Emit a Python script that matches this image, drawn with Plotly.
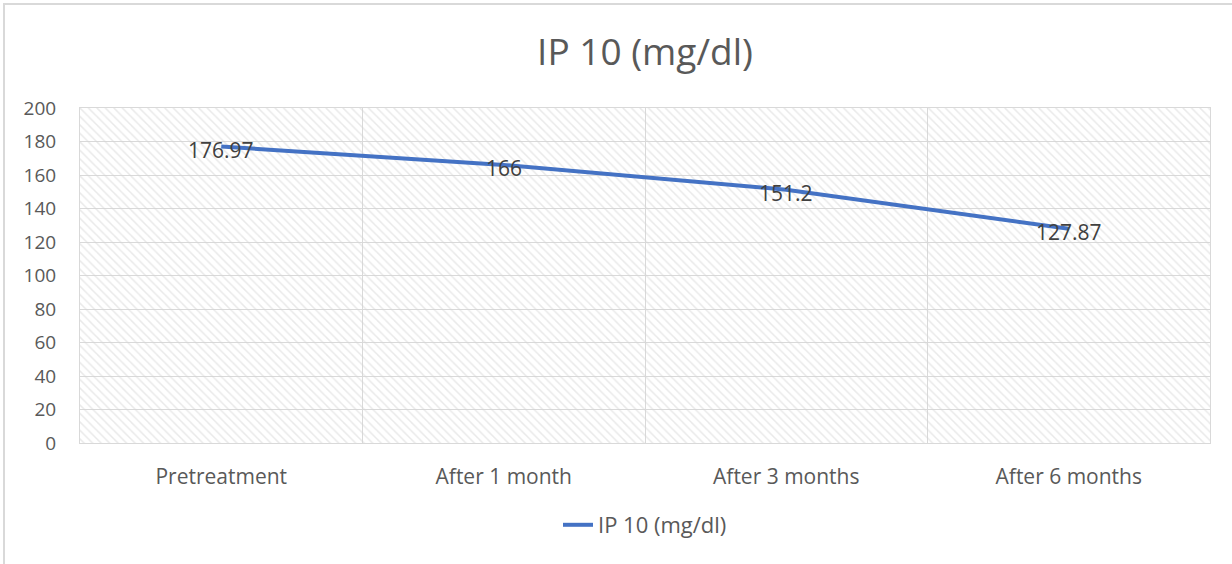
import plotly.graph_objects as go

categories = ["Pretreatment", "After 1 month", "After 3 months", "After 6 months"]
values = [176.97, 166, 151.2, 127.87]
labels = ["176.97", "166", "151.2", "127.87"]
series_name = "IP 10 (mg/dl)"
y_ticks = [0, 20, 40, 60, 80, 100, 120, 140, 160, 180, 200]

FONT = "Open Sans"
TXT = "#595959"

fig = go.Figure()
# hatched plot-area background
fig.add_trace(go.Bar(
    x=categories, y=[200] * len(categories), width=1,
    marker=dict(color="rgba(0,0,0,0)", line=dict(width=0),
                pattern=dict(shape="\\", fgcolor="#d4d4d4", bgcolor="rgba(0,0,0,0)", size=6, solidity=0.25)),
    showlegend=False, hoverinfo="skip",
))
fig.add_trace(go.Scatter(
    x=categories, y=values, name=series_name, mode="lines",
    line=dict(color="#4472C4", width=4),
))
# data labels
for c, v, t in zip(categories, values, labels):
    fig.add_annotation(x=c, y=v, text=t, showarrow=False, yshift=-3,
                       font=dict(family=FONT, size=21, color="#404040"))

W, H = 1232, 564
ml, mr, mt, mb = 80, 22, 108, 121
pw, ph = W - ml - mr, H - mt - mb
# outer chart border (left and top edges visible)
fig.add_shape(type="line", xref="paper", yref="paper",
              x0=(4 - ml) / pw, x1=(4 - ml) / pw, y0=-(H - mb) / ph, y1=1 + (mt - 3) / ph,
              line=dict(color="#d9d9d9", width=2), layer="below")
fig.add_shape(type="line", xref="paper", yref="paper",
              x0=(3 - ml) / pw, x1=(W - ml) / pw, y0=1 + (mt - 4) / ph, y1=1 + (mt - 4) / ph,
              line=dict(color="#d9d9d9", width=2), layer="below")

fig.update_layout(
    width=W, height=H,
    margin=dict(l=ml, r=mr, t=mt, b=mb),
    paper_bgcolor="white", plot_bgcolor="white",
    bargap=0,
    title=dict(text=series_name, x=0.5, xref="paper", y=1 - 52 / H, yanchor="middle",
               font=dict(family=FONT, size=37, color=TXT)),
    font=dict(family=FONT, color=TXT),
    legend=dict(orientation="h", x=0.5, xanchor="center", xref="paper",
                y=-(525 - 443) / ph, yanchor="middle",
                font=dict(family=FONT, size=22, color=TXT)),
    xaxis=dict(type="category", tickson="boundaries", showgrid=True, gridcolor="#d9d9d9",
               showline=True, linecolor="#d9d9d9", mirror=True, ticks="",
               tickfont=dict(family=FONT, size=21, color=TXT), ticklabelstandoff=15,
               range=[-0.5, 3.5]),
    yaxis=dict(range=[0, 200], tickvals=y_ticks, showgrid=True, gridcolor="#d9d9d9",
               showline=True, linecolor="#d9d9d9", mirror=True, ticks="", zeroline=False,
               tickfont=dict(family=FONT, size=19, color=TXT), ticklabelstandoff=19),
)

fig.write_html("out.html", config={"displayModeBar": False},
               post_script="document.body.style.margin='0';document.body.style.overflow='hidden';")
